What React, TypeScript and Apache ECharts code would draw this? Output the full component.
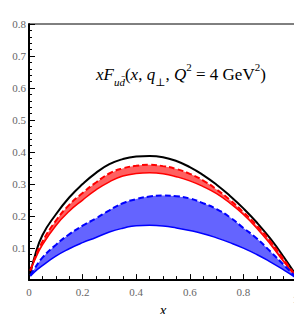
import React, { useEffect, useRef } from "react";
import * as echarts from "echarts";

const xs = [0.005, 0.02, 0.05, 0.1, 0.15, 0.2, 0.25, 0.3, 0.35, 0.4, 0.45, 0.5, 0.55, 0.6, 0.65, 0.7, 0.75, 0.8, 0.85, 0.9, 0.95, 1.0];
const blackVals = [0.02, 0.07, 0.14, 0.205, 0.258, 0.3, 0.335, 0.362, 0.378, 0.386, 0.388, 0.384, 0.372, 0.353, 0.328, 0.298, 0.263, 0.224, 0.18, 0.13, 0.073, 0.01];
const redUpper = [0.03, 0.065, 0.12, 0.185, 0.235, 0.272, 0.305, 0.333, 0.349, 0.357, 0.36, 0.356, 0.347, 0.332, 0.311, 0.283, 0.25, 0.212, 0.17, 0.122, 0.065, 0.008];
const redLower = [0.028, 0.06, 0.11, 0.17, 0.215, 0.25, 0.282, 0.307, 0.325, 0.333, 0.335, 0.332, 0.323, 0.31, 0.292, 0.27, 0.24, 0.205, 0.162, 0.113, 0.058, 0.006];
const blueUpper = [0.015, 0.035, 0.07, 0.11, 0.143, 0.17, 0.193, 0.218, 0.24, 0.253, 0.261, 0.264, 0.262, 0.255, 0.24, 0.222, 0.196, 0.163, 0.13, 0.09, 0.048, 0.006];
const blueLower = [0.012, 0.025, 0.045, 0.075, 0.098, 0.117, 0.133, 0.15, 0.162, 0.17, 0.171, 0.169, 0.163, 0.155, 0.145, 0.132, 0.117, 0.1, 0.08, 0.057, 0.032, 0.005];
const xMax = 1;

const serif = "'Liberation Serif', 'DejaVu Serif', serif";

function pts(vals: number[]) {
  return xs.map((x, i) => [x, vals[i]]);
}

function band(upper: number[], lower: number[], color: string) {
  return {
    type: "custom",
    z: 1,
    silent: true,
    data: [[0, 0]],
    renderItem: (_params: any, api: any) => {
      const top = xs.map((x, i) => api.coord([x, upper[i]]));
      const bot = xs.map((x, i) => api.coord([x, lower[i]])).reverse();
      return {
        type: "polygon",
        shape: { points: top.concat(bot), smooth: 0.3 },
        style: { fill: color, stroke: "none" },
      };
    },
  };
}

export default function App() {
  const ref = useRef<HTMLDivElement>(null);
  useEffect(() => {
    const chart = echarts.init(ref.current!, null, { renderer: "svg" });
    const lineBase = { type: "line", smooth: true, symbol: "none", z: 3 };
    const base = { fontFamily: serif, color: "#000", fontWeight: "normal", lineHeight: 26 };
    const labelFont = { fontFamily: serif, fontSize: 11, color: "#666" };
    chart.setOption({
      animation: false,
      backgroundColor: "#fff",
      grid: { left: 29, top: 24, right: 5, bottom: 34, show: true, borderColor: "#000", borderWidth: 1, backgroundColor: "transparent" },
      title: {
        left: 91,
        top: 56,
        text: "{i|xF}{sub|ud̄}{n|(}{i|x}{n|, }{i|q}{sub|⊥}{n|, }{i|Q}{sup|2}{n| = 4 GeV}{sup|2}{n|)}",
        textStyle: {
          fontWeight: "normal",
          rich: {
            i: { ...base, fontStyle: "italic", fontSize: 17, verticalAlign: "middle" },
            n: { ...base, fontSize: 17, verticalAlign: "middle" },
            sub: { ...base, fontStyle: "italic", fontSize: 11, verticalAlign: "bottom" },
            sup: { ...base, fontSize: 11, verticalAlign: "top" },
          },
        },
      },
      graphic: [
        {
          type: "text",
          right: 4,
          top: 293,
          z: 100,
          style: { text: String(xMax), fontFamily: serif, fontSize: 11, fill: "#666" },
        },
      ],
      xAxis: {
        type: "value",
        min: 0,
        max: xMax,
        interval: 0.2,
        name: "x",
        nameLocation: "middle",
        nameGap: 14,
        nameTextStyle: { fontFamily: serif, fontStyle: "italic", fontSize: 15, color: "#000" },
        axisLine: { show: true, lineStyle: { color: "#000", width: 2 } },
        axisTick: { show: true, inside: true, length: 6, lineStyle: { color: "#000", width: 1 } },
        minorTick: { show: true, splitNumber: 4, length: 4, lineStyle: { color: "#000", width: 1 } },
        axisLabel: { ...labelFont, margin: 6, formatter: (v: number) => (v >= xMax - 1e-6 ? "" : String(+v.toFixed(1))) },
        splitLine: { show: false },
      },
      yAxis: {
        type: "value",
        min: 0,
        max: 0.8,
        interval: 0.1,
        axisLine: { show: true, lineStyle: { color: "#000", width: 2 } },
        axisTick: { show: true, inside: true, length: 6, lineStyle: { color: "#000", width: 1 } },
        minorTick: { show: true, splitNumber: 5, length: 3, lineStyle: { color: "#000", width: 1 } },
        axisLabel: { ...labelFont, margin: 3, formatter: (v: number) => (v === 0 ? "" : v.toFixed(1)) },
        splitLine: { show: false },
      },
      series: [
        band(redUpper, redLower, "#ff6060"),
        band(blueUpper, blueLower, "#6464ff"),
        { ...lineBase, name: "black", data: pts(blackVals), lineStyle: { color: "#000", width: 2 } },
        { ...lineBase, name: "redUpper", data: pts(redUpper), lineStyle: { color: "#ff0000", width: 2, type: [6, 3] } },
        { ...lineBase, name: "redLower", data: pts(redLower), lineStyle: { color: "#ff0000", width: 1.5 } },
        { ...lineBase, name: "blueUpper", data: pts(blueUpper), lineStyle: { color: "#0000ff", width: 2, type: [6, 3] } },
        { ...lineBase, name: "blueLower", data: pts(blueLower), lineStyle: { color: "#0000ff", width: 1.5 } },
      ],
    });
    return () => chart.dispose();
  }, []);
  return <div ref={ref} style={{ width: 302, height: 322, margin: -8 }} />;
}
